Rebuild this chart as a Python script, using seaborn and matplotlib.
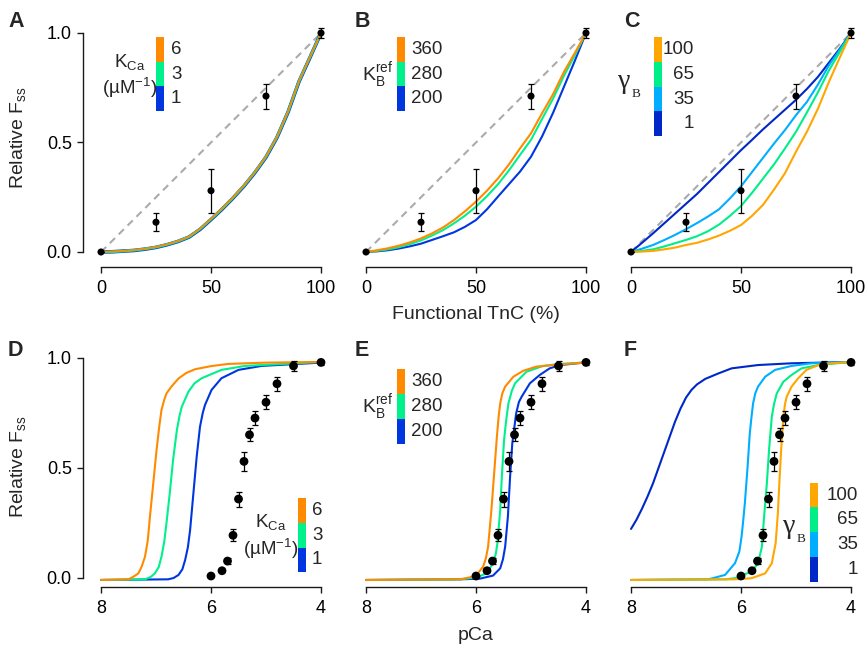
import matplotlib
matplotlib.use("Agg")
import matplotlib.pyplot as plt
from matplotlib.patches import Rectangle
import pandas as pd
import seaborn as sns

# ---------------- data ----------------
# Top row: relative steady-state force vs. functional TnC (%)
TNC = [0, 5, 10, 15, 20, 25, 30, 35, 40, 45, 50, 55, 60, 65, 70, 75, 80, 85, 90, 95, 100]
A_KCA1 = [0, 0.001, 0.004, 0.007, 0.013, 0.021, 0.033, 0.048, 0.068, 0.103, 0.148, 0.195,
          0.246, 0.301, 0.363, 0.433, 0.523, 0.638, 0.778, 0.888, 1.0]
A_KCA3 = [0, 0.001, 0.004, 0.008, 0.014, 0.022, 0.034, 0.049, 0.069, 0.105, 0.150, 0.197,
          0.248, 0.303, 0.365, 0.435, 0.525, 0.640, 0.780, 0.890, 1.0]
A_KCA6 = [0, 0.002, 0.005, 0.009, 0.015, 0.023, 0.035, 0.050, 0.070, 0.106, 0.151, 0.198,
          0.249, 0.304, 0.366, 0.436, 0.526, 0.641, 0.781, 0.891, 1.0]

B_KB200 = [0, 0.003, 0.008, 0.016, 0.026, 0.038, 0.055, 0.072, 0.090, 0.115, 0.146, 0.195,
           0.253, 0.310, 0.367, 0.435, 0.527, 0.635, 0.755, 0.875, 1.0]
B_KB280 = [0, 0.005, 0.012, 0.022, 0.036, 0.053, 0.075, 0.100, 0.131, 0.166, 0.207, 0.255,
           0.309, 0.373, 0.443, 0.512, 0.607, 0.700, 0.805, 0.900, 1.0]
B_KB360 = [0, 0.008, 0.017, 0.029, 0.044, 0.062, 0.085, 0.112, 0.146, 0.186, 0.230, 0.280,
           0.336, 0.400, 0.473, 0.542, 0.633, 0.720, 0.823, 0.910, 1.0]

C_G1 = [0, 0.042, 0.085, 0.130, 0.175, 0.220, 0.265, 0.315, 0.365, 0.415, 0.465, 0.512,
        0.560, 0.605, 0.650, 0.695, 0.745, 0.800, 0.865, 0.930, 1.0]
C_G35 = [0, 0.015, 0.032, 0.054, 0.078, 0.104, 0.132, 0.162, 0.195, 0.245, 0.300, 0.365,
         0.430, 0.495, 0.557, 0.625, 0.686, 0.765, 0.853, 0.925, 1.0]
C_G65 = [0, 0.005, 0.012, 0.025, 0.040, 0.055, 0.072, 0.095, 0.125, 0.165, 0.210, 0.270,
         0.335, 0.400, 0.473, 0.549, 0.638, 0.730, 0.830, 0.915, 1.0]
C_G100 = [0, 0.002, 0.005, 0.012, 0.020, 0.032, 0.042, 0.057, 0.075, 0.097, 0.123, 0.165,
          0.215, 0.285, 0.360, 0.458, 0.550, 0.655, 0.778, 0.890, 1.0]

# Measured points (functional TnC)
TNC_PTS = [0, 25, 50, 75, 100]
TNC_FSS = [0.0, 0.136, 0.28, 0.712, 1.0]
TNC_ERR = [0.0, 0.04, 0.10, 0.057, 0.024]
IDENTITY_X = [0, 100]
IDENTITY_Y = [0.0, 1.0]

# Bottom row: relative steady-state force vs. pCa
D_KCA6_PCA = [8.0, 7.5, 7.41, 7.32, 7.26, 7.2, 7.15, 7.11, 7.05, 6.99, 6.94, 6.9, 6.85, 6.81,
              6.72, 6.59, 6.45, 6.29, 6.0, 5.69, 5.0, 4.0]
D_KCA6 = [-0.009, -0.006, 0.006, 0.021, 0.052, 0.097, 0.17, 0.279, 0.43, 0.582, 0.69, 0.764,
          0.81, 0.839, 0.87, 0.907, 0.932, 0.949, 0.963, 0.973, 0.979, 0.982]
D_KCA3_PCA = [8.0, 7.2, 7.1, 7.02, 6.95, 6.9, 6.85, 6.81, 6.75, 6.69, 6.62, 6.57, 6.53, 6.41,
              6.3, 6.17, 5.81, 5.38, 4.0]
D_KCA3 = [-0.009, -0.006, 0.004, 0.021, 0.05, 0.097, 0.165, 0.248, 0.385, 0.536, 0.673, 0.74,
          0.779, 0.847, 0.885, 0.908, 0.946, 0.964, 0.982]
D_KCA1_PCA = [8.0, 6.78, 6.68, 6.59, 6.52, 6.47, 6.42, 6.38, 6.32, 6.26, 6.2, 6.15, 6.11,
              5.99, 5.81, 5.5, 5.08, 4.0]
D_KCA1 = [-0.009, -0.006, 0.0, 0.014, 0.04, 0.082, 0.14, 0.218, 0.385, 0.552, 0.688, 0.75,
          0.786, 0.855, 0.908, 0.946, 0.964, 0.979]

E_KB200_PCA = [8.0, 6.29, 5.93, 5.69, 5.56, 5.51, 5.47, 5.42, 5.38, 5.34, 5.27, 5.22, 5.17,
               5.02, 4.84, 4.66, 4.47, 4.0]
E_KB200 = [-0.009, -0.006, -0.003, 0.011, 0.044, 0.085, 0.142, 0.279, 0.461, 0.612, 0.748,
           0.80, 0.824, 0.885, 0.923, 0.953, 0.968, 0.98]
E_KB280_PCA = [8.0, 6.29, 5.99, 5.81, 5.69, 5.64, 5.61, 5.56, 5.53, 5.49, 5.45, 5.41, 5.35,
               5.29, 5.08, 4.78, 4.47, 4.0]
E_KB280 = [-0.009, -0.006, 0.002, 0.021, 0.067, 0.11, 0.158, 0.309, 0.461, 0.627, 0.72,
           0.794, 0.85, 0.885, 0.938, 0.964, 0.973, 0.98]
E_KB360_PCA = [8.0, 6.29, 6.11, 5.99, 5.87, 5.82, 5.78, 5.72, 5.67, 5.62, 5.59, 5.56, 5.52,
               5.47, 5.32, 5.14, 4.9, 4.59, 4.0]
E_KB360 = [-0.009, -0.006, 0.003, 0.014, 0.052, 0.09, 0.142, 0.309, 0.476, 0.643, 0.73,
           0.794, 0.84, 0.87, 0.915, 0.942, 0.961, 0.968, 0.98]

F_G1_PCA = [8.0, 7.9, 7.8, 7.7, 7.6, 7.5, 7.4, 7.3, 7.2, 7.1, 7.0, 6.9, 6.8, 6.65,
            6.41, 6.17, 5.69, 5.08, 4.0]
F_G1 = [0.223, 0.265, 0.315, 0.37, 0.43, 0.50, 0.57, 0.64, 0.71, 0.77, 0.82, 0.855,
        0.88, 0.905, 0.93, 0.953, 0.968, 0.976, 0.982]
F_G35_PCA = [8.0, 6.59, 6.29, 6.11, 6.03, 5.99, 5.96, 5.93, 5.88, 5.84, 5.81, 5.78, 5.74,
             5.69, 5.56, 5.38, 5.08, 4.72, 4.0]
F_G35 = [-0.009, -0.006, 0.014, 0.067, 0.12, 0.188, 0.26, 0.34, 0.506, 0.658, 0.73, 0.794,
         0.84, 0.87, 0.915, 0.946, 0.964, 0.976, 0.982]
F_G65_PCA = [8.0, 6.29, 6.11, 5.81, 5.69, 5.62, 5.58, 5.53, 5.49, 5.44, 5.4, 5.35, 5.23,
             5.08, 4.9, 4.59, 4.0]
F_G65 = [-0.009, -0.006, -0.001, 0.029, 0.067, 0.142, 0.279, 0.43, 0.582, 0.733, 0.79,
         0.839, 0.892, 0.923, 0.953, 0.968, 0.982]
F_G100_PCA = [8.0, 6.11, 5.81, 5.56, 5.44, 5.37, 5.33, 5.3, 5.27, 5.23, 5.2, 5.17, 5.08,
              4.96, 4.81, 4.59, 4.35, 4.0]
F_G100 = [-0.009, -0.006, -0.001, 0.021, 0.067, 0.158, 0.294, 0.446, 0.582, 0.733, 0.79,
          0.824, 0.87, 0.908, 0.946, 0.968, 0.976, 0.982]

# Measured points (pCa)
PCA_PTS = [6.0, 5.8, 5.7, 5.6, 5.5, 5.4, 5.3, 5.2, 5.0, 4.8, 4.5, 4.0]
PCA_FSS = [0.009, 0.033, 0.077, 0.194, 0.359, 0.53, 0.651, 0.727, 0.799, 0.883, 0.964, 0.98]
PCA_ERR = [0.004, 0.006, 0.012, 0.028, 0.034, 0.043, 0.03, 0.032, 0.033, 0.032, 0.023, 0.01]

# Legend labels (top to bottom)
KCA_LABELS = ["6", "3", "1"]
KB_LABELS = ["360", "280", "200"]
GAMMA_LABELS = ["100", "65", "35", "1"]

TNC_TICKS = [0, 50, 100]
PCA_TICKS = [8, 6, 4]
Y_TICKS = [0.0, 0.5, 1.0]

# ---------------- colours ----------------
ORANGE = "#FF8A00"
GREEN = "#00F08C"
BLUE = "#0036E0"
G_ORANGE = "#FFA600"
G_GREEN = "#00EE88"
G_LIGHT = "#00AEFF"
G_DARK = "#0028C8"
INK = "#1a1a1a"

sns.set_style("ticks")
plt.rcParams["font.family"] = ["Liberation Sans", "DejaVu Sans"]
plt.rcParams["axes.edgecolor"] = INK

W, H = 867, 648
fig = plt.figure(figsize=(W / 100, H / 100), dpi=100)


def fx(x):
    return x / W


def fy(y):
    return 1 - y / H


def make_axes(left, top, bottom):
    return fig.add_axes([fx(left), fy(bottom), 220 / W, (bottom - top) / H])


def style_axes(ax, xlim, xticks, show_y, drop):
    ax.set_xlim(*xlim)
    ax.set_ylim(0, 1)
    ax.patch.set_visible(False)
    for s in ("top", "right"):
        ax.spines[s].set_visible(False)
    ax.spines["bottom"].set_position(("outward", drop))
    ax.spines["bottom"].set_bounds(min(xlim), max(xlim))
    ax.spines["bottom"].set_linewidth(1.0)
    ax.set_xticks(xticks)
    ax.set_xticklabels([str(t) for t in xticks])
    if show_y:
        ax.spines["left"].set_position(("outward", 13))
        ax.spines["left"].set_bounds(0, 1)
        ax.spines["left"].set_linewidth(1.0)
        ax.set_yticks(Y_TICKS)
        ax.set_yticklabels([f"{t:.1f}" for t in Y_TICKS])
    else:
        ax.spines["left"].set_visible(False)
        ax.set_yticks([])
    ax.tick_params(axis="both", direction="out", length=4.5, width=1.0,
                   color=INK, labelsize=13, labelcolor="black")
    ax.tick_params(axis="x", pad=5)
    ax.tick_params(axis="y", pad=3.5)


def draw_curves(ax, x_lists, y_lists, colors, widths):
    for xs, ys, c, w in zip(x_lists, y_lists, colors, widths):
        df = pd.DataFrame({"x": xs, "F": ys})
        sns.lineplot(data=df, x="x", y="F", color=c, lw=w, estimator=None,
                     sort=False, legend=False, ax=ax, clip_on=False, zorder=3)


def draw_points(ax, xs, ys, errs, size):
    ax.errorbar(xs, ys, yerr=errs, fmt="none", ecolor="black", elinewidth=0.9,
                capsize=2.2, capthick=0.9, clip_on=False, zorder=4)
    sns.scatterplot(x=xs, y=ys, color="black", s=size, edgecolor="none",
                    ax=ax, clip_on=False, zorder=5, legend=False)


def draw_identity(ax):
    ax.plot(IDENTITY_X, IDENTITY_Y, color="#ababab", lw=1.5,
            dashes=(3.5, 2.5), zorder=2, clip_on=False)


def legend_bar(x0, y0, seg, colors, labels, label_x, ha, size=13.5):
    for i, (c, lab) in enumerate(zip(colors, labels)):
        top = y0 + i * seg
        fig.add_artist(Rectangle((fx(x0), fy(top + seg)), 8 / W, seg / H,
                                 transform=fig.transFigure, facecolor=c,
                                 edgecolor="none"))
        fig.text(fx(label_x), fy(top + seg / 2), lab, ha=ha, va="center",
                 fontsize=size)


def gamma_label(x, y):
    fig.text(fx(x), fy(y), "\u03b3", family="Liberation Serif", fontsize=20,
             ha="left", va="baseline")
    fig.text(fx(x + 14), fy(y + 9), "B", family="Liberation Serif",
             fontsize=9.5, ha="left", va="baseline")


def kca_label(xc, y_first, y_second):
    fig.text(fx(xc), fy(y_first), "K$_\\mathregular{Ca}$", fontsize=13.5,
             ha="center", va="baseline")
    fig.text(fx(xc), fy(y_second), "(\u00b5M$^\\mathregular{-1}$)", fontsize=13.5,
             ha="center", va="baseline")


# ---------------- top row ----------------
axA = make_axes(101, 33, 252)
axB = make_axes(366, 33, 252)
axC = make_axes(631, 33, 252)

for ax, show in ((axA, True), (axB, False), (axC, False)):
    style_axes(ax, (0, 100), TNC_TICKS, show, 10.8)
    draw_identity(ax)

draw_curves(axA, [TNC] * 3, [A_KCA1, A_KCA3, A_KCA6], [BLUE, GREEN, ORANGE],
            [2.6, 1.9, 1.3])
draw_curves(axB, [TNC] * 3, [B_KB200, B_KB280, B_KB360], [BLUE, GREEN, ORANGE],
            [1.5] * 3)
draw_curves(axC, [TNC] * 4, [C_G1, C_G35, C_G65, C_G100],
            [G_DARK, G_LIGHT, G_GREEN, G_ORANGE], [1.5] * 4)
for ax in (axA, axB, axC):
    draw_points(ax, TNC_PTS, TNC_FSS, TNC_ERR, 26)

# ---------------- bottom row ----------------
axD = make_axes(101, 358, 578)
axE = make_axes(366, 358, 578)
axF = make_axes(631, 358, 578)

for ax, show in ((axD, True), (axE, False), (axF, False)):
    style_axes(ax, (8, 4), PCA_TICKS, show, 6.5)

draw_curves(axD, [D_KCA1_PCA, D_KCA3_PCA, D_KCA6_PCA], [D_KCA1, D_KCA3, D_KCA6],
            [BLUE, GREEN, ORANGE], [1.5] * 3)
draw_curves(axE, [E_KB200_PCA, E_KB280_PCA, E_KB360_PCA], [E_KB200, E_KB280, E_KB360],
            [BLUE, GREEN, ORANGE], [1.5] * 3)
draw_curves(axF, [F_G1_PCA, F_G35_PCA, F_G65_PCA, F_G100_PCA],
            [F_G1, F_G35, F_G65, F_G100],
            [G_DARK, G_LIGHT, G_GREEN, G_ORANGE], [1.5] * 4)
for ax in (axD, axE, axF):
    draw_points(ax, PCA_PTS, PCA_FSS, PCA_ERR, 40)

# ---------------- axis labels ----------------
for ax in (axA, axB, axC, axD, axE, axF):
    ax.set_xlabel("")
    ax.set_ylabel("")

for ax, yc in ((axA, 0.523), (axD, 0.505)):
    ax.set_ylabel("Relative F$_\\mathregular{ss}$", fontsize=14)
    ax.yaxis.label.set_va("center")
    ax.yaxis.set_label_coords(-0.375, yc)

axB.set_xlabel("Functional TnC (%)", fontsize=14)
axB.xaxis.label.set_va("center")
axB.xaxis.set_label_coords(0.5, (252 - 315) / 219)
axE.set_xlabel("pCa", fontsize=14)
axE.xaxis.label.set_va("center")
axE.xaxis.set_label_coords(0.5, (578 - 635) / 220)

# ---------------- panel letters ----------------
for lab, x, y in (("A", 8, 27), ("B", 355, 27), ("C", 624, 27),
                  ("D", 8, 356), ("E", 355, 356), ("F", 624, 356)):
    fig.text(fx(x), fy(y), lab, fontsize=15.5, fontweight="bold",
             ha="left", va="baseline")

# ---------------- colour-bar legends ----------------
# A
legend_bar(156, 37, 24.7, [ORANGE, GREEN, BLUE], KCA_LABELS, 171, "left")
kca_label(130, 68, 94)
# B
legend_bar(397, 37, 24.7, [ORANGE, GREEN, BLUE], KB_LABELS, 411, "left")
fig.text(fx(393), fy(82), "K$_\\mathregular{B}^\\mathregular{ref}$", fontsize=14,
         ha="right", va="baseline")
# C
legend_bar(654, 37, 24.8, [G_ORANGE, G_GREEN, G_LIGHT, G_DARK], GAMMA_LABELS, 694, "right")
gamma_label(618, 88)
# D
legend_bar(298, 497.7, 24.9, [ORANGE, GREEN, BLUE], KCA_LABELS, 312, "left")
kca_label(271, 528, 555)
# E
legend_bar(397, 369.3, 24.9, [ORANGE, GREEN, BLUE], KB_LABELS, 411, "left")
fig.text(fx(393), fy(414), "K$_\\mathregular{B}^\\mathregular{ref}$", fontsize=14,
         ha="right", va="baseline")
# F
legend_bar(810, 482.7, 24.75, [G_ORANGE, G_GREEN, G_LIGHT, G_DARK], GAMMA_LABELS, 858, "right")
gamma_label(783, 533)

fig.savefig("out.png", dpi=100)
